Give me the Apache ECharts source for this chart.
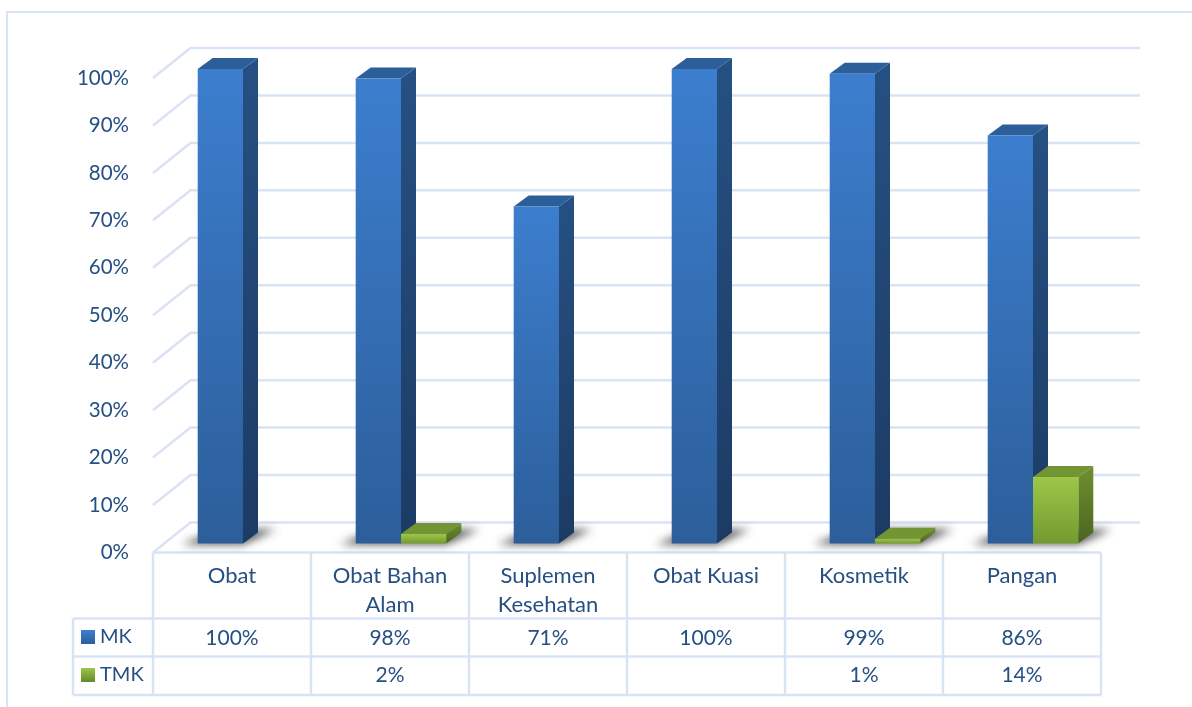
<!DOCTYPE html>
<html><head><meta charset="utf-8">
<style>html,body{margin:0;padding:0;background:#fff}#c{width:1192px;height:707px}</style>
<script src="https://cdn.jsdelivr.net/npm/echarts@6/dist/echarts.min.js"></script>
</head><body><div id="c"></div>
<script>
const categories = ['Obat', 'Obat Bahan\nAlam', 'Suplemen\nKesehatan', 'Obat Kuasi', 'Kosmetik', 'Pangan'];
const mkValues = [100, 98, 71, 100, 99, 86];
const tmkValues = [null, 2, null, null, 1, 14];
const yTicks = [0, 10, 20, 30, 40, 50, 60, 70, 80, 90, 100];

const FONT = 'Lato';
const TEXT = '#264f82';
const LINE = '#d8e4f4';
const WALL = [37.5, -30];   // depth of the back wall
const PLANE = [0, -9];      // bars stand a little behind the front edge
const BAR_W = 45.3, BAR_OFF = 11, DEPTH = [15, -11];

function grad(a, b) {
  return { type: 'linear', x: 0, y: 0, x2: 0, y2: 1, colorStops: [{ offset: 0, color: a }, { offset: 1, color: b }] };
}
const palette = {
  MK: { front: grad('#3c7ece', '#2c5e9a'), side: grad('#265083', '#1c3b64'), top: '#2c5f9a' },
  TMK: { front: grad('#9cc748', '#729a30'), side: grad('#6f9030', '#4c651f'), top: '#739433' }
};

function poly(points, fill, z2) {
  return { type: 'polygon', shape: { points }, style: { fill }, z2: z2 || 0, silent: true };
}
function bar3d(name, slot) {
  return function (params, api) {
    const v = api.value(1);
    if (v == null || isNaN(v)) return null;
    const i = api.value(0);
    const cx = api.coord([i, 0])[0];
    const base = api.coord([i, 0])[1] + PLANE[1];
    const top = api.coord([i, v])[1] + PLANE[1];
    const x0 = cx + BAR_OFF + (slot - 1) * BAR_W, x1 = x0 + BAR_W;
    const c = palette[name];
    const dx = DEPTH[0], dy = DEPTH[1];
    return { type: 'group', silent: true, children: [
      poly([[x1, top], [x1 + dx, top + dy], [x1 + dx, base + dy], [x1, base]], c.side),
      poly([[x0, top], [x0 + dx, top + dy], [x1 + dx, top + dy], [x1, top]], c.top),
      poly([[x0, top], [x1, top], [x1, base], [x0, base]], c.front)
    ] };
  };
}
function wallLines(params, api) {
  const p = api.coord([0, api.value(0)]);
  const cs = params.coordSys;
  const y = p[1], l = cs.x, r = cs.x + cs.width;
  return { type: 'polyline', silent: true,
    shape: { points: [[l, y], [l + WALL[0], y + WALL[1]], [r + 39, y + WALL[1]]] },
    style: { stroke: LINE, lineWidth: 2.5, fill: null } };
}
const SHIFT = 3000;
function shadows(params, api) {
  const i = api.value(0), t = api.value(2), two = t != null && !isNaN(t);
  const p = api.coord([i, 0]);
  const base = p[1] + PLANE[1];
  const x0 = p[0] + BAR_OFF - BAR_W - SHIFT;
  const x1 = x0 + BAR_W * (two ? 2 : 1);
  return { type: 'polygon', silent: true,
    shape: { points: [[x0 - 16, base + 1], [x1, base + 1], [x1 + 33, base - 14], [x0 + 20, base - 14]] },
    style: { fill: '#333', shadowBlur: 8, shadowColor: 'rgba(50,50,50,0.8)', shadowOffsetX: SHIFT } };
}
function tableCells(params, api) {
  const i = api.value(0);
  const band = api.size([1, 0])[0];
  const cx = api.coord([i, 0])[0];
  const y0 = api.coord([i, 0])[1];
  const l = cx - band / 2, r = cx + band / 2;
  const rows = [y0, y0 + 66, y0 + 104, y0 + 142.5];
  const seg = (a, b, c, d) => ({ type: 'line', shape: { x1: a, y1: b, x2: c, y2: d }, style: { stroke: LINE, lineWidth: 2.5 } });
  const kids = rows.map(y => seg(l, y, r, y));
  kids.push(seg(r, rows[0], r, rows[3]));
  if (i === 0) {
    kids.push(seg(l, rows[0], l, rows[3]));
    kids.push(seg(73, rows[1], l, rows[1]), seg(73, rows[2], l, rows[2]), seg(73, rows[3], l, rows[3]), seg(73, rows[1], 73, rows[3]));
  }
  const txt = (val, y) => ({ type: 'text', style: { text: val + '%', x: cx, y, align: 'center', verticalAlign: 'middle', font: '21px ' + FONT, fill: TEXT } });
  if (api.value(1) != null && !isNaN(api.value(1))) kids.push(txt(api.value(1), rows[1] + 20));
  if (api.value(2) != null && !isNaN(api.value(2))) kids.push(txt(api.value(2), rows[2] + 19));
  return { type: 'group', silent: true, children: kids };
}

const rows = categories.map((c, i) => [i, mkValues[i], tmkValues[i]]);
const chart = echarts.init(document.getElementById('c'), null, { renderer: 'canvas' });
chart.setOption({
  animation: false,
  backgroundColor: '#fff',
  graphic: [{ type: 'polyline', silent: true, shape: { points: [[7, 707], [7, 12], [1192, 12]] }, style: { stroke: LINE, lineWidth: 2, fill: null } }],
  legend: {
    data: ['MK', 'TMK'], orient: 'vertical', left: 81, top: 627, itemWidth: 14, itemHeight: 14, itemGap: 18, icon: 'rect',
    selectedMode: false, textStyle: { fontFamily: FONT, fontSize: 20, color: TEXT }, padding: 0
  },
  grid: { left: 153, right: 91, top: 78, bottom: 154.5, containLabel: false },
  xAxis: {
    type: 'category', data: categories,
    axisLine: { show: false }, axisTick: { show: false }, splitLine: { show: false },
    axisLabel: { interval: 0, fontFamily: FONT, fontSize: 22, color: TEXT, margin: 9, lineHeight: 29 }
  },
  yAxis: {
    type: 'value', min: 0, max: 100, interval: 10,
    axisLine: { show: false }, axisTick: { show: false }, splitLine: { show: false },
    axisLabel: { fontFamily: FONT, fontSize: 20.5, color: TEXT, margin: 24, padding: [4, 0, 0, 0], verticalAlign: 'middle', lineHeight: 22, formatter: '{value}%' }
  },
  series: [
    { type: 'custom', name: 'walls', data: yTicks.map(v => [v]), encode: { y: 0 }, renderItem: wallLines, z: 1, silent: true, clip: false },
    { type: 'custom', name: 'table', data: rows, encode: { x: 0, y: 1 }, renderItem: tableCells, z: 1, silent: true, clip: false },
    { type: 'custom', name: 'shadow', data: rows, encode: { x: 0, y: 1 }, renderItem: shadows, z: 2, silent: true, clip: false },
    { type: 'custom', name: 'MK', data: rows.map(r => [r[0], r[1]]), encode: { x: 0, y: 1 }, renderItem: bar3d('MK', 0), z: 3, silent: true, clip: false,
      itemStyle: { color: grad('#3c7ece', '#2c5e9a') } },
    { type: 'custom', name: 'TMK', data: rows.map(r => [r[0], r[2]]), encode: { x: 0, y: 1 }, renderItem: bar3d('TMK', 1), z: 4, silent: true, clip: false,
      itemStyle: { color: grad('#9cc748', '#648a2a') } }
  ]
});
</script></body></html>
